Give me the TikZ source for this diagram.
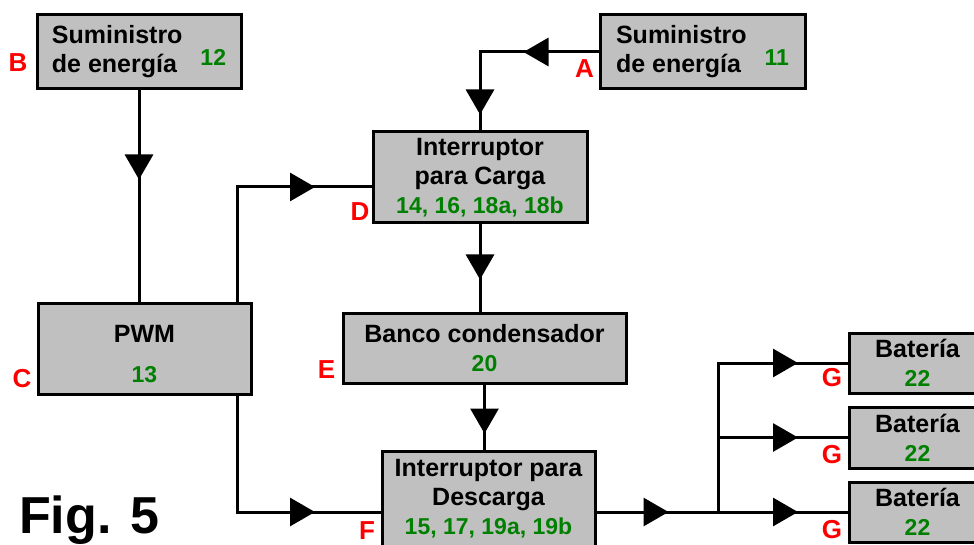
\documentclass[tikz,border=0pt]{standalone}
\usepackage{fontspec}
\setmainfont{Liberation Sans}
\usetikzlibrary{arrows.meta,decorations.markings,positioning}
\definecolor{boxgray}{HTML}{C0C0C0}
\definecolor{numgreen}{HTML}{008000}
\definecolor{tagred}{HTML}{FF0000}
\newcommand{\partno}[1]{{\color{numgreen}\fontsize{23}{27}\selectfont #1}}

\begin{document}
\begin{tikzpicture}[
    x=1pt, y=-1pt,
    block/.style={rectangle, draw=black, line width=3pt, fill=boxgray, align=center, inner sep=0pt, font=\bfseries\fontsize{25}{29}\selectfont},
    tag/.style={text=tagred, inner sep=0pt, font=\bfseries\fontsize{26}{26}\selectfont},
    wire/.style={line width=3pt},
    arrowat/.style={postaction={decorate, decoration={markings, mark=at position #1 with {\arrow{Triangle[length=25pt, width=28pt]}}}}}
]
\useasboundingbox (0,0) rectangle (974,545);
\clip (0,0) rectangle (974,545);

% Supplies
\node[block, minimum width=204pt, minimum height=74pt] (sup12) at (139,52) {\begin{tabular}{@{}l@{}}Suministro\\de energía\end{tabular}\hspace{18pt}\raisebox{-7pt}{\partno{12}}};
\node[block, minimum width=205pt, minimum height=74pt] (sup11) at (702.5,52) {\begin{tabular}{@{}l@{}}Suministro\\de energía\end{tabular}\hspace{18pt}\raisebox{-7pt}{\partno{11}}};

% Switches, PWM and capacitor bank
\node[block, minimum width=214pt, minimum height=91pt] (chg) at (480,177.5) {Interruptor\\para Carga\\\partno{14, 16, 18a, 18b}};
\node[block, minimum width=213pt, minimum height=91pt] (pwm) at (144.5,348.5) {\raisebox{-8pt}[\height][\depth]{\begin{tabular}{@{}c@{}}PWM\\[11pt]\partno{13}\end{tabular}}};
\node[block, minimum width=283pt, minimum height=70pt] (bank) at (484.5,348) {Banco condensador\\\partno{20}};
\node[block, minimum width=213pt, minimum height=96pt] (dis) at (488.5,499) {Interruptor para\\Descarga\\\partno{15, 17, 19a, 19b}};

% Batteries
\node[block, minimum width=137pt, minimum height=60pt] (bat1) at (917.5,363) {Batería\\\partno{22}};
\node[block, minimum width=137pt, minimum height=61pt] (bat2) at (917.5,437.5) {Batería\\\partno{22}};
\node[block, minimum width=137pt, minimum height=60pt] (bat3) at (917.5,512) {Batería\\\partno{22}};

% Letters
\node[tag] (tagB) at (18,63) {B};
\node[tag] (tagA) at (584.5,69) {A};
\node[tag] (tagC) at (22,379) {C};
\node[tag] (tagD) at (360,212) {D};
\node[tag] (tagE) at (326.5,369.5) {E};
\node[tag] (tagF) at (367,531) {F};
\node[tag] (tagG1) at (832,378) {G};
\node[tag] (tagG2) at (832,455) {G};
\node[tag] (tagG3) at (832,530) {G};

% Connections
\draw[wire, arrowat=75pt, arrowat=181pt] (sup11.west) -| (chg.north);
\draw[wire, arrowat=89pt] (sup12.south) -- (sup12.south |- pwm.north);
\draw[wire, arrowat=192pt] ([xshift=-15pt]pwm.north east) |- ([yshift=-9.5pt]chg.west);
\draw[wire, arrowat=55pt] (chg.south) -- (chg.south |- bank.north);
\draw[wire, arrowat=49pt] (bank.south) -- (bank.south |- dis.north);
\draw[wire, arrowat=194pt] ([xshift=-15pt]pwm.south east) |- ([yshift=-13pt]dis.west);
\coordinate (split) at (718,512);
\draw[wire, arrowat=72pt] ([yshift=-13pt]dis.east) -- (split);
\draw[wire, arrowat=229pt] (split) |- (bat1.west);
\draw[wire, arrowat=80pt] (split |- bat2.west) -- (bat2.west);
\draw[wire, arrowat=80pt] (split) -- (bat3.west);

% Figure number
\node[anchor=base west, inner sep=0pt, font=\bfseries\fontsize{52}{52}\selectfont] (figno) at (19,533) {Fig. 5};

\end{tikzpicture}
\end{document}
